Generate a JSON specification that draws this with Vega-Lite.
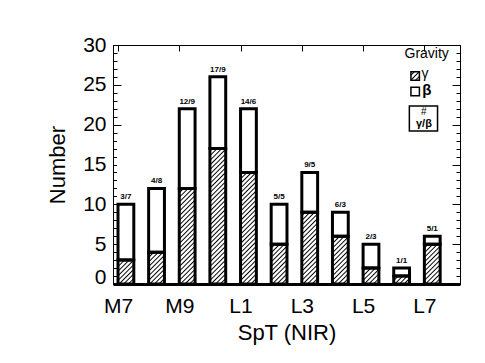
{
  "$schema": "https://vega.github.io/schema/vega-lite/v6.json",
  "width": 347,
  "height": 239,
  "autosize": {"type": "none"},
  "padding": {"left": 113, "top": 45, "right": 25, "bottom": 79},
  "background": "white",
  "config": {"view": {"stroke": "black", "strokeWidth": 1}, "font": "Liberation Sans", "axis": {"zindex": 1}},
  "data": {
    "values": [
      {"spt": 7, "gamma": 3, "total": 10, "label": "3/7"},
      {"spt": 8, "gamma": 4, "total": 12, "label": "4/8"},
      {"spt": 9, "gamma": 12, "total": 22, "label": "12/9"},
      {"spt": 10, "gamma": 17, "total": 26, "label": "17/9"},
      {"spt": 11, "gamma": 14, "total": 22, "label": "14/6"},
      {"spt": 12, "gamma": 5, "total": 10, "label": "5/5"},
      {"spt": 13, "gamma": 9, "total": 14, "label": "9/5"},
      {"spt": 14, "gamma": 6, "total": 9, "label": "6/3"},
      {"spt": 15, "gamma": 2, "total": 5, "label": "2/3"},
      {"spt": 16, "gamma": 1, "total": 2, "label": "1/1"},
      {"spt": 17, "gamma": 5, "total": 6, "label": "5/1"}
    ]
  },
  "layer": [
    {
      "mark": {
        "type": "bar", "width": 15.8, "xOffset": 7.9, "stroke": null,
        "fill": {
          "gradient": "linear", "x1": 0, "y1": 0, "x2": 0.1209, "y2": 1.0969,
          "stops": [
            {"offset": 0, "color": "#fff"}, {"offset": 0.0085, "color": "#000"}, {"offset": 0.017, "color": "#fff"},
            {"offset": 0.029, "color": "#fff"}, {"offset": 0.0375, "color": "#000"}, {"offset": 0.046, "color": "#fff"},
            {"offset": 0.058, "color": "#fff"}, {"offset": 0.0665, "color": "#000"}, {"offset": 0.075, "color": "#fff"},
            {"offset": 0.087, "color": "#fff"}, {"offset": 0.0955, "color": "#000"}, {"offset": 0.104, "color": "#fff"},
            {"offset": 0.116, "color": "#fff"}, {"offset": 0.1245, "color": "#000"}, {"offset": 0.133, "color": "#fff"},
            {"offset": 0.145, "color": "#fff"}, {"offset": 0.1535, "color": "#000"}, {"offset": 0.162, "color": "#fff"},
            {"offset": 0.174, "color": "#fff"}, {"offset": 0.1825, "color": "#000"}, {"offset": 0.191, "color": "#fff"},
            {"offset": 0.203, "color": "#fff"}, {"offset": 0.2115, "color": "#000"}, {"offset": 0.22, "color": "#fff"},
            {"offset": 0.232, "color": "#fff"}, {"offset": 0.2405, "color": "#000"}, {"offset": 0.249, "color": "#fff"},
            {"offset": 0.261, "color": "#fff"}, {"offset": 0.2695, "color": "#000"}, {"offset": 0.278, "color": "#fff"},
            {"offset": 0.29, "color": "#fff"}, {"offset": 0.2985, "color": "#000"}, {"offset": 0.307, "color": "#fff"},
            {"offset": 0.319, "color": "#fff"}, {"offset": 0.3275, "color": "#000"}, {"offset": 0.336, "color": "#fff"},
            {"offset": 0.348, "color": "#fff"}, {"offset": 0.3565, "color": "#000"}, {"offset": 0.365, "color": "#fff"},
            {"offset": 0.377, "color": "#fff"}, {"offset": 0.3855, "color": "#000"}, {"offset": 0.394, "color": "#fff"},
            {"offset": 0.406, "color": "#fff"}, {"offset": 0.4145, "color": "#000"}, {"offset": 0.423, "color": "#fff"},
            {"offset": 0.435, "color": "#fff"}, {"offset": 0.4435, "color": "#000"}, {"offset": 0.452, "color": "#fff"},
            {"offset": 0.464, "color": "#fff"}, {"offset": 0.4725, "color": "#000"}, {"offset": 0.481, "color": "#fff"},
            {"offset": 0.493, "color": "#fff"}, {"offset": 0.5015, "color": "#000"}, {"offset": 0.51, "color": "#fff"},
            {"offset": 0.522, "color": "#fff"}, {"offset": 0.5305, "color": "#000"}, {"offset": 0.539, "color": "#fff"},
            {"offset": 0.551, "color": "#fff"}, {"offset": 0.5595, "color": "#000"}, {"offset": 0.568, "color": "#fff"},
            {"offset": 0.58, "color": "#fff"}, {"offset": 0.5885, "color": "#000"}, {"offset": 0.597, "color": "#fff"},
            {"offset": 0.609, "color": "#fff"}, {"offset": 0.6175, "color": "#000"}, {"offset": 0.626, "color": "#fff"},
            {"offset": 0.638, "color": "#fff"}, {"offset": 0.6465, "color": "#000"}, {"offset": 0.655, "color": "#fff"},
            {"offset": 0.667, "color": "#fff"}, {"offset": 0.6755, "color": "#000"}, {"offset": 0.684, "color": "#fff"},
            {"offset": 0.696, "color": "#fff"}, {"offset": 0.7045, "color": "#000"}, {"offset": 0.713, "color": "#fff"},
            {"offset": 0.725, "color": "#fff"}, {"offset": 0.7335, "color": "#000"}, {"offset": 0.742, "color": "#fff"},
            {"offset": 0.754, "color": "#fff"}, {"offset": 0.7625, "color": "#000"}, {"offset": 0.771, "color": "#fff"},
            {"offset": 0.783, "color": "#fff"}, {"offset": 0.7915, "color": "#000"}, {"offset": 0.8, "color": "#fff"},
            {"offset": 0.812, "color": "#fff"}, {"offset": 0.8205, "color": "#000"}, {"offset": 0.829, "color": "#fff"},
            {"offset": 0.841, "color": "#fff"}, {"offset": 0.8495, "color": "#000"}, {"offset": 0.858, "color": "#fff"},
            {"offset": 0.87, "color": "#fff"}, {"offset": 0.8785, "color": "#000"}, {"offset": 0.887, "color": "#fff"},
            {"offset": 0.899, "color": "#fff"}, {"offset": 0.9075, "color": "#000"}, {"offset": 0.916, "color": "#fff"},
            {"offset": 0.928, "color": "#fff"}, {"offset": 0.9365, "color": "#000"}, {"offset": 0.945, "color": "#fff"},
            {"offset": 0.957, "color": "#fff"}, {"offset": 0.9655, "color": "#000"}, {"offset": 0.974, "color": "#fff"},
            {"offset": 0.986, "color": "#fff"}, {"offset": 0.9945, "color": "#000"}, {"offset": 1, "color": "#fff"}
          ]
        }
      },
      "encoding": {
        "x": {
          "field": "spt", "type": "quantitative",
          "scale": {"domain": [7, 18], "nice": false, "zero": false},
          "axis": {
            "orient": "bottom", "values": [7, 9, 11, 13, 15, 17],
            "labelExpr": "datum.value < 10 ? 'M' + datum.value : 'L' + (datum.value - 10)",
            "ticks": false, "domainWidth": 3, "domainColor": "black",
            "labelFontSize": 21, "labelPadding": 11, "labelColor": "black",
            "labelOverlap": false, "labelFlush": false,
            "title": "SpT (NIR)", "titleFontSize": 22, "titleFontWeight": "normal",
            "titleColor": "black", "titlePadding": 6, "grid": false
          }
        },
        "y": {
          "datum": 18, "type": "quantitative",
          "scale": {"domain": [0, 30], "nice": false, "zero": false},
          "axis": {
            "orient": "left",
            "values": [0,1,2,3,4,5,6,7,8,9,10,11,12,13,14,15,16,17,18,19,20,21,22,23,24,25,26,27,28,29,30],
            "labelExpr": "datum.value % 5 === 0 ? datum.label : ''",
            "labelOffset": {"condition": {"test": "datum.value === 0", "value": -7}, "value": 0},
            "tickSize": {"condition": {"test": "datum.value % 5 === 0", "value": -8}, "value": -4},
            "tickColor": "black", "domainColor": "black", "domainWidth": 1,
            "labelFontSize": 21, "labelPadding": 15, "labelColor": "black",
            "labelOverlap": false, "labelFlush": false, "labelBound": false,
            "title": "Number", "titleFontSize": 22, "titleFontWeight": "normal",
            "titleColor": "black", "titlePadding": 13, "grid": false
          }
        },
        "y2": {"datum": 0}
      }
    },
    {
      "mark": {"type": "bar", "width": 15.8, "xOffset": 7.9, "fill": "white", "stroke": "white", "strokeWidth": 2},
      "encoding": {
        "x": {"field": "spt", "type": "quantitative", "axis": null},
        "y": {"field": "total", "type": "quantitative", "axis": null},
        "y2": {"datum": 18}
      }
    },
    {
      "mark": {"type": "bar", "width": 15.8, "xOffset": 7.9, "fill": "white", "stroke": "black", "strokeWidth": 3},
      "encoding": {
        "x": {"field": "spt", "type": "quantitative", "axis": null},
        "y": {"field": "total", "type": "quantitative", "axis": null},
        "y2": {"field": "gamma"}
      }
    },
    {
      "mark": {"type": "bar", "width": 15.8, "xOffset": 7.9, "fill": "white", "fillOpacity": 0, "stroke": "black", "strokeWidth": 3},
      "encoding": {
        "x": {"field": "spt", "type": "quantitative", "axis": null},
        "y": {"field": "gamma", "type": "quantitative", "axis": null},
        "y2": {"datum": 0}
      }
    },
    {
      "mark": {"type": "text", "xOffset": 7.9, "dy": -3, "baseline": "bottom", "align": "center", "fontSize": 8, "fontWeight": "bold", "color": "black"},
      "encoding": {
        "x": {"field": "spt", "type": "quantitative", "axis": null},
        "y": {"field": "total", "type": "quantitative", "axis": null},
        "text": {"field": "label"}
      }
    },
    {
      "data": {"values": [{}]},
      "mark": {"type": "text", "text": "Gravity", "align": "right", "baseline": "middle", "fontSize": 14, "color": "black"},
      "encoding": {
        "x": {"datum": 17.8, "type": "quantitative", "axis": null},
        "y": {"datum": 28.87, "type": "quantitative", "axis": null}
      }
    },
    {
      "data": {"values": [{}]},
      "mark": {
        "type": "point", "shape": "square", "size": 72, "filled": true, "opacity": 1,
        "stroke": "black", "strokeWidth": 1.5,
        "fill": {
          "gradient": "linear", "x1": 0, "y1": 0, "x2": 1, "y2": 1,
          "stops": [
            {"offset": 0.12, "color": "#fff"}, {"offset": 0.2, "color": "#000"}, {"offset": 0.28, "color": "#fff"},
            {"offset": 0.4075, "color": "#fff"}, {"offset": 0.4875, "color": "#000"}, {"offset": 0.5675, "color": "#fff"},
            {"offset": 0.695, "color": "#fff"}, {"offset": 0.775, "color": "#000"}, {"offset": 0.855, "color": "#fff"}
          ]
        }
      },
      "encoding": {
        "x": {"datum": 16.7, "type": "quantitative", "axis": null},
        "y": {"datum": 26.11, "type": "quantitative", "axis": null}
      }
    },
    {
      "data": {"values": [{}]},
      "mark": {"type": "point", "shape": "square", "size": 72, "filled": true, "opacity": 1, "fill": "white", "stroke": "black", "strokeWidth": 1.5},
      "encoding": {
        "x": {"datum": 16.7, "type": "quantitative", "axis": null},
        "y": {"datum": 24.16, "type": "quantitative", "axis": null}
      }
    },
    {
      "data": {"values": [{}]},
      "mark": {"type": "text", "text": "γ", "align": "left", "baseline": "alphabetic", "fontSize": 14, "color": "black"},
      "encoding": {
        "x": {"datum": 16.91, "type": "quantitative", "axis": null},
        "y": {"datum": 25.86, "type": "quantitative", "axis": null}
      }
    },
    {
      "data": {"values": [{}]},
      "mark": {"type": "text", "text": "β", "align": "left", "baseline": "alphabetic", "fontSize": 15, "fontWeight": "bold", "color": "black"},
      "encoding": {
        "x": {"datum": 16.93, "type": "quantitative", "axis": null},
        "y": {"datum": 23.72, "type": "quantitative", "axis": null}
      }
    },
    {
      "data": {"values": [{}]},
      "mark": {"type": "rect", "fill": "white", "stroke": "black", "strokeWidth": 1.5},
      "encoding": {
        "x": {"datum": 16.51, "type": "quantitative", "axis": null},
        "x2": {"datum": 17.43},
        "y": {"datum": 22.34, "type": "quantitative", "axis": null},
        "y2": {"datum": 19.2}
      }
    },
    {
      "data": {"values": [{}]},
      "mark": {"type": "text", "text": "#", "align": "center", "baseline": "middle", "fontSize": 10, "color": "black"},
      "encoding": {
        "x": {"datum": 16.985, "type": "quantitative", "axis": null},
        "y": {"datum": 21.59, "type": "quantitative", "axis": null}
      }
    },
    {
      "data": {"values": [{}]},
      "mark": {"type": "text", "text": "γ/β", "align": "center", "baseline": "middle", "fontSize": 11, "fontWeight": "bold", "color": "black"},
      "encoding": {
        "x": {"datum": 16.985, "type": "quantitative", "axis": null},
        "y": {"datum": 20.08, "type": "quantitative", "axis": null}
      }
    },
    {
      "data": {"values": [{"a": 7, "b": 0}]},
      "mark": {"type": "point", "opacity": 0},
      "encoding": {
        "x": {
          "field": "a", "type": "quantitative",
          "axis": {
            "orient": "top", "values": [7, 9, 11, 13, 15, 17], "labels": false,
            "tickSize": -6, "tickColor": "black", "domainColor": "black", "domainWidth": 1,
            "title": null, "grid": false
          }
        },
        "y": {
          "field": "b", "type": "quantitative",
          "axis": {
            "orient": "right",
            "values": [0,1,2,3,4,5,6,7,8,9,10,11,12,13,14,15,16,17,18,19,20,21,22,23,24,25,26,27,28,29,30],
            "labels": false,
            "tickSize": {"condition": {"test": "datum.value % 5 === 0", "value": -8}, "value": -4},
            "tickColor": "black", "domainColor": "black", "domainWidth": 1,
            "title": null, "grid": false
          }
        }
      }
    }
  ],
  "resolve": {"axis": {"x": "independent", "y": "independent"}}
}
